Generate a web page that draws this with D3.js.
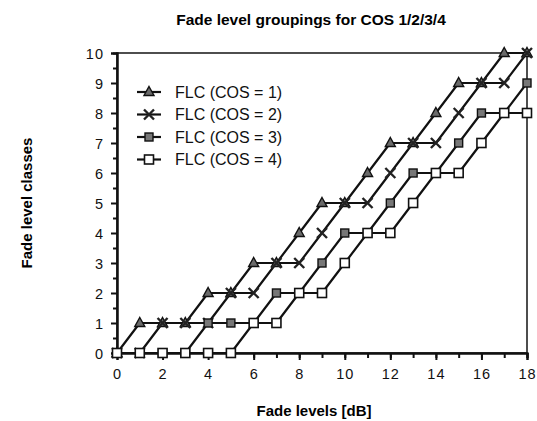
<!DOCTYPE html>
<html>
<head>
<meta charset="utf-8">
<script src="https://cdn.jsdelivr.net/npm/d3@7"></script>
<style>
  body { margin: 0; background: #fff; }
  svg { display: block; font-family: "Liberation Sans", Arial, Helvetica, sans-serif; }
</style>
</head>
<body>
<svg id="chart" width="537" height="421"></svg>
<script>
// values, one entry per dB step
const fadeDb = [0, 1, 2, 3, 4, 5, 6, 7, 8, 9, 10, 11, 12, 13, 14, 15, 16, 17, 18];
const flcCos1 = [0, 1, 1, 1, 2, 2, 3, 3, 4, 5, 5, 6, 7, 7, 8, 9, 9, 10, 10];
const flcCos2 = [0, 0, 1, 1, 1, 2, 2, 3, 3, 4, 5, 5, 6, 7, 7, 8, 9, 9, 10];
const flcCos3 = [0, 0, 0, 0, 1, 1, 1, 2, 2, 3, 4, 4, 5, 6, 6, 7, 8, 8, 9];
const flcCos4 = [0, 0, 0, 0, 0, 0, 1, 1, 2, 2, 3, 4, 4, 5, 6, 6, 7, 8, 8];
const seriesNames = ["FLC (COS = 1)", "FLC (COS = 2)", "FLC (COS = 3)", "FLC (COS = 4)"];
const markerKinds = ["triangle", "cross", "filled", "open"];
const xTickLabels = [0, 2, 4, 6, 8, 10, 12, 14, 16, 18];
const yTickLabels = [0, 1, 2, 3, 4, 5, 6, 7, 8, 9, 10];
const yMinorTicks = [0.5, 1.5, 2.5, 3.5, 4.5, 5.5, 6.5, 7.5, 8.5, 9.5];

const allSeries = [flcCos1, flcCos2, flcCos3, flcCos4];

const svg = d3.select("#chart");
const plotLeft = 117, plotRight = 527, plotTop = 53, plotBottom = 353;

const x = d3.scaleLinear().domain([0, 18]).range([plotLeft, plotRight]);
const y = d3.scaleLinear().domain([0, 10]).range([plotBottom, plotTop]);

// title
svg.append("text")
  .attr("x", 311).attr("y", 25)
  .attr("text-anchor", "middle")
  .attr("font-size", 15.5).attr("font-weight", "bold")
  .text("Fade level groupings for COS 1/2/3/4");

// frame (top + right)
svg.append("rect")
  .attr("x", plotLeft).attr("y", plotTop)
  .attr("width", plotRight - plotLeft).attr("height", plotBottom - plotTop)
  .attr("fill", "none").attr("stroke", "#222").attr("stroke-width", 1.6);

// x axis: minor ticks every dB, labels on even ones
const xMinor = d3.axisBottom(x).tickValues(fadeDb).tickSize(5).tickFormat("");
const xMajor = d3.axisBottom(x).tickValues(xTickLabels).tickSize(7).tickPadding(9)
  .tickFormat(d3.format("d"));

svg.append("g").attr("transform", `translate(0,${plotBottom})`).call(xMinor);
const gx = svg.append("g").attr("transform", `translate(0,${plotBottom})`).call(xMajor);

const yMinor = d3.axisLeft(y).tickValues(yMinorTicks).tickSize(4).tickFormat("");
const yMajor = d3.axisLeft(y).tickValues(yTickLabels).tickSize(6).tickPadding(7)
  .tickFormat(d3.format("d"));
svg.append("g").attr("transform", `translate(${plotLeft},0)`).call(yMinor);
const gy = svg.append("g").attr("transform", `translate(${plotLeft},0)`).call(yMajor);

svg.selectAll(".domain").attr("stroke", "#111").attr("stroke-width", 2);
svg.selectAll(".tick line").attr("stroke", "#111").attr("stroke-width", 2);
svg.selectAll(".tick text")
  .attr("fill", "#111")
  .attr("font-size", 14.5)
  .attr("font-family", "'Liberation Sans', Arial, sans-serif");
gx.selectAll(".tick text").attr("letter-spacing", "1px");
gy.selectAll(".tick text").attr("letter-spacing", "1px").attr("dy", "0.35em");

// axis titles
svg.append("text")
  .attr("x", 314).attr("y", 416)
  .attr("text-anchor", "middle")
  .attr("font-size", 15).attr("font-weight", "bold")
  .text("Fade levels [dB]");

svg.append("text")
  .attr("transform", "translate(32,203) rotate(-90)")
  .attr("text-anchor", "middle")
  .attr("font-size", 15).attr("font-weight", "bold")
  .text("Fade level classes");

// lines
const line = d3.line()
  .x((d, i) => x(fadeDb[i]))
  .y(d => y(d));

allSeries.forEach(s => {
  svg.append("path")
    .datum(s)
    .attr("d", line)
    .attr("fill", "none")
    .attr("stroke", "#111")
    .attr("stroke-width", 2.2)
    .attr("stroke-linejoin", "round");
});

function drawMarker(g, kind, cx, cy) {
  if (kind === "triangle") {
    g.append("path")
      .attr("d", `M${cx},${cy - 5.5}L${cx + 5},${cy + 3.5}L${cx - 5},${cy + 3.5}Z`)
      .attr("fill", "#6a6a6a").attr("stroke", "#111").attr("stroke-width", 1.4);
  } else if (kind === "cross") {
    g.append("path")
      .attr("d", `M${cx - 5},${cy - 5}L${cx + 5},${cy + 5}M${cx - 5},${cy + 5}L${cx + 5},${cy - 5}`)
      .attr("stroke", "#222").attr("stroke-width", 2.4);
  } else if (kind === "filled") {
    g.append("rect")
      .attr("x", cx - 4).attr("y", cy - 4).attr("width", 8).attr("height", 8)
      .attr("fill", "#777").attr("stroke", "#111").attr("stroke-width", 1.4);
  } else {
    g.append("rect")
      .attr("x", cx - 4.5).attr("y", cy - 4.5).attr("width", 9).attr("height", 9)
      .attr("fill", "#fff").attr("stroke", "#111").attr("stroke-width", 1.6);
  }
}

// markers
allSeries.forEach((s, k) => {
  const g = svg.append("g");
  s.forEach((v, i) => drawMarker(g, markerKinds[k], x(fadeDb[i]), y(v)));
});

// legend
const legendY = [92, 114.5, 137, 159.5];
seriesNames.forEach((name, k) => {
  const g = svg.append("g");
  g.append("line")
    .attr("x1", 137).attr("x2", 161)
    .attr("y1", legendY[k]).attr("y2", legendY[k])
    .attr("stroke", "#111").attr("stroke-width", 2.2);
  drawMarker(g, markerKinds[k], 149, legendY[k]);
  g.append("text")
    .attr("x", 175).attr("y", legendY[k])
    .attr("dy", "0.36em")
    .attr("font-size", 16)
    .attr("fill", "#111")
    .text(name);
});
</script>
</body>
</html>
